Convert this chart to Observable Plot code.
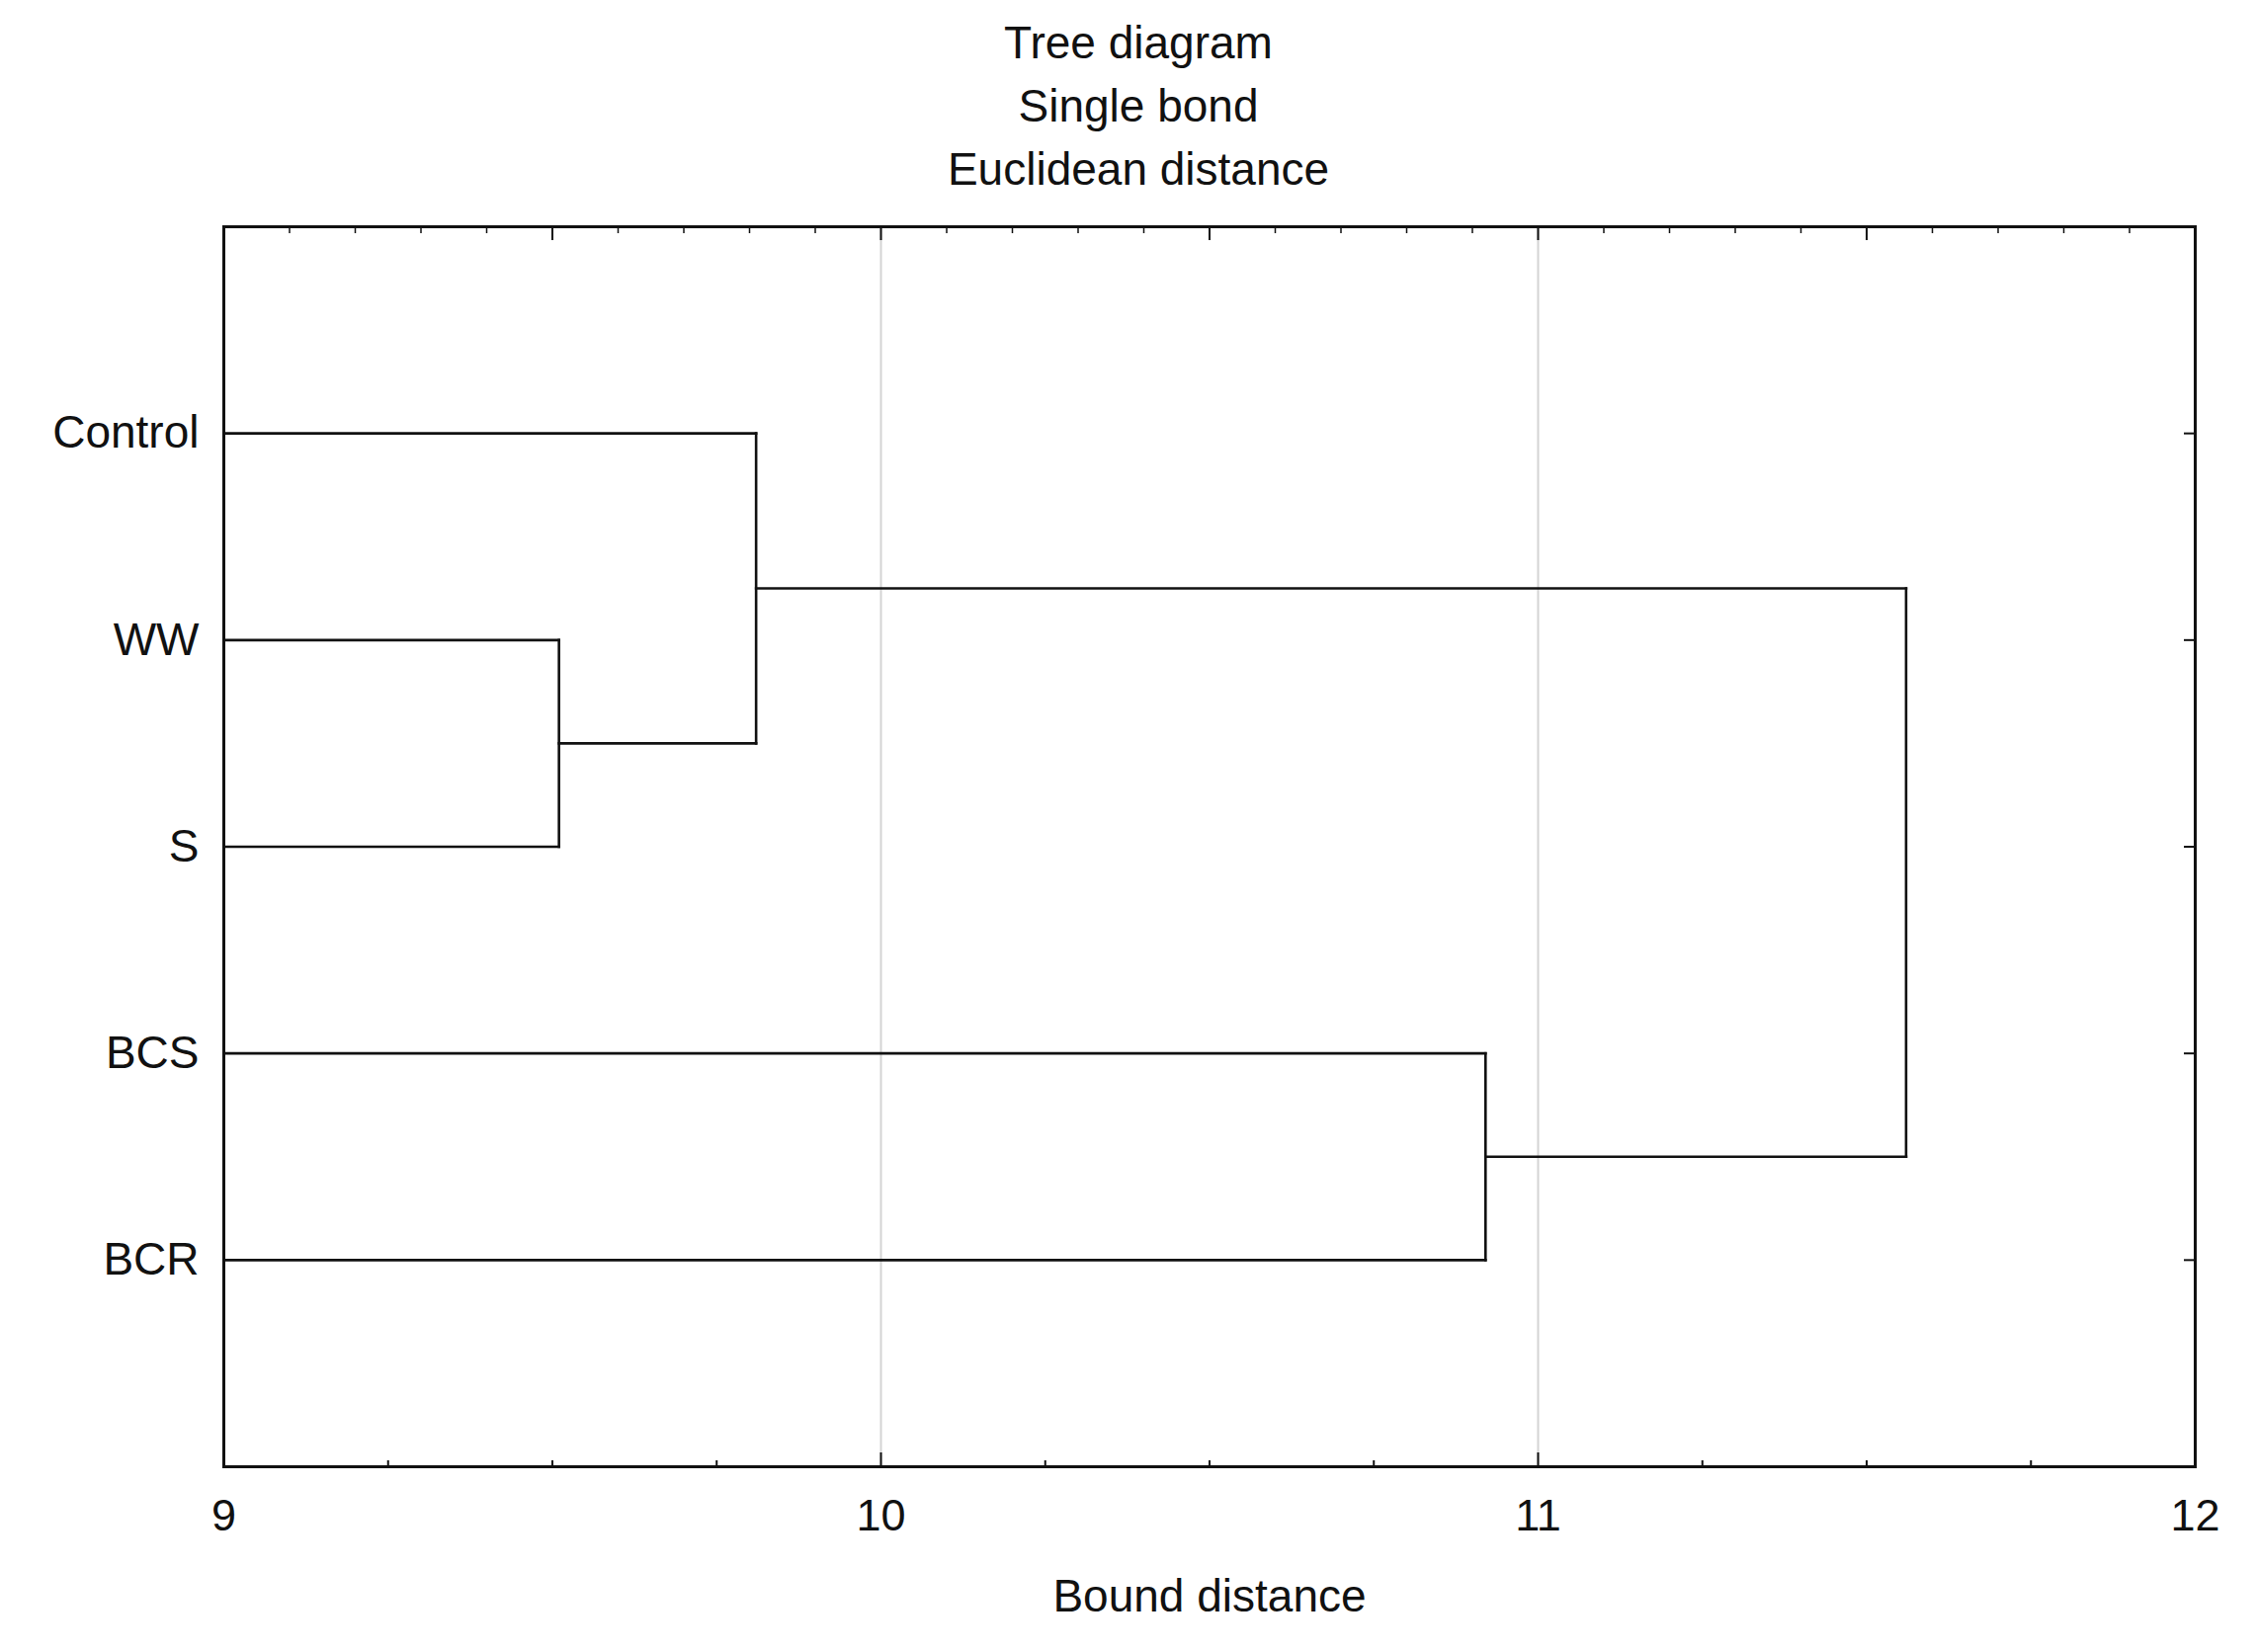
<!DOCTYPE html>
<html>
<head>
<meta charset="utf-8">
<script src="https://cdn.jsdelivr.net/npm/d3@7"></script>
<script src="https://cdn.jsdelivr.net/npm/@observablehq/plot@0.6"></script>
<style>
  html, body { margin: 0; padding: 0; background: white; }
</style>
</head>
<body>
<div id="chart"></div>
<script>
// ---- data ----
const titleLines = ["Tree diagram", "Single bond", "Euclidean distance"];
const xLabel = "Bound distance";
const leaves = ["Control", "WW", "S", "BCS", "BCR"];
const mergeIds = ["m1", "m2", "m3", "m4"];
const mergeLeft = ["WW", "Control", "BCS", "m2"];
const mergeRight = ["S", "m1", "BCR", "m3"];
const mergeHeight = [9.51, 9.81, 10.92, 11.56];
const xTicks = [9, 10, 11, 12];
const xDomain = [9, 12];

// ---- build dendrogram segments ----
const nodes = {};
leaves.forEach((name, i) => { nodes[name] = {x: xDomain[0], y: i + 1}; });
const segments = [];
mergeIds.forEach((id, i) => {
  const a = nodes[mergeLeft[i]], b = nodes[mergeRight[i]], h = mergeHeight[i];
  segments.push({x1: a.x, y1: a.y, x2: h, y2: a.y});
  segments.push({x1: b.x, y1: b.y, x2: h, y2: b.y});
  segments.push({x1: h, y1: a.y, x2: h, y2: b.y});
  nodes[id] = {x: h, y: (a.y + b.y) / 2};
});

// ---- axis tick structure ----
const tenths = d3.range(91, 120).map(v => v / 10);
const topMinor = tenths.filter(v => Math.abs(v * 2 - Math.round(v * 2)) > 1e-6);
const topHalf = d3.range(9.5, 12, 1);
const quarters = [9.25, 9.5, 9.75, 10.25, 10.5, 10.75, 11.25, 11.5, 11.75];
const inner = [10, 11];

const W = 2284, H = 1672;
const mL = 226, mR = 63, mT = 229, mB = 188;
const fw = W - mL - mR, fh = H - mT - mB;
const font = "Liberation Sans, Arial, Helvetica, sans-serif";

const chart = Plot.plot({
  width: W,
  height: H,
  marginLeft: mL,
  marginRight: mR,
  marginTop: mT,
  marginBottom: mB,
  x: {domain: xDomain},
  y: {domain: [0, leaves.length + 1], reverse: true},
  style: {fontFamily: font, background: "white", color: "#111", overflow: "visible"},
  marks: [
    Plot.ruleX(inner, {stroke: "#d4d4d4", strokeWidth: 2}),
    // top ticks
    Plot.tickX(topMinor, {x: d => d, insetBottom: fh - 7, stroke: "#111", strokeWidth: 1.5}),
    Plot.tickX(topHalf.concat(inner), {x: d => d, insetBottom: fh - 14, stroke: "#111", strokeWidth: 2}),
    // bottom ticks
    Plot.tickX(quarters, {x: d => d, insetTop: fh - 6, stroke: "#111", strokeWidth: 2}),
    Plot.tickX(inner, {x: d => d, insetTop: fh - 14, stroke: "#111", strokeWidth: 2}),
    // right ticks at leaves
    Plot.tickY(leaves.map((d, i) => i + 1), {y: d => d, insetLeft: fw - 11, stroke: "#111", strokeWidth: 2}),
    // dendrogram
    Plot.link(segments, {x1: "x1", y1: "y1", x2: "x2", y2: "y2", stroke: "#111", strokeWidth: 2.6, strokeLinecap: "square"}),
    // axes
    Plot.axisX({ticks: xTicks, tickSize: 0, tickPadding: 33, fontSize: 45, label: null, tickFormat: d => String(d)}),
    Plot.axisY({ticks: leaves.map((d, i) => i + 1), tickSize: 0, tickPadding: 25, fontSize: 46, label: null, tickFormat: d => leaves[d - 1]}),
    Plot.text([xLabel], {frameAnchor: "bottom", dy: 132, lineAnchor: "middle", fontSize: 46, fill: "#111"}),
    Plot.text([titleLines.join("\n")], {frameAnchor: "top", dx: -72, dy: -127, lineAnchor: "middle", lineHeight: 64 / 46, fontSize: 46, fill: "#111"}),
    Plot.frame({stroke: "#111", strokeWidth: 3})
  ]
});
document.getElementById("chart").appendChild(chart);
</script>
</body>
</html>
